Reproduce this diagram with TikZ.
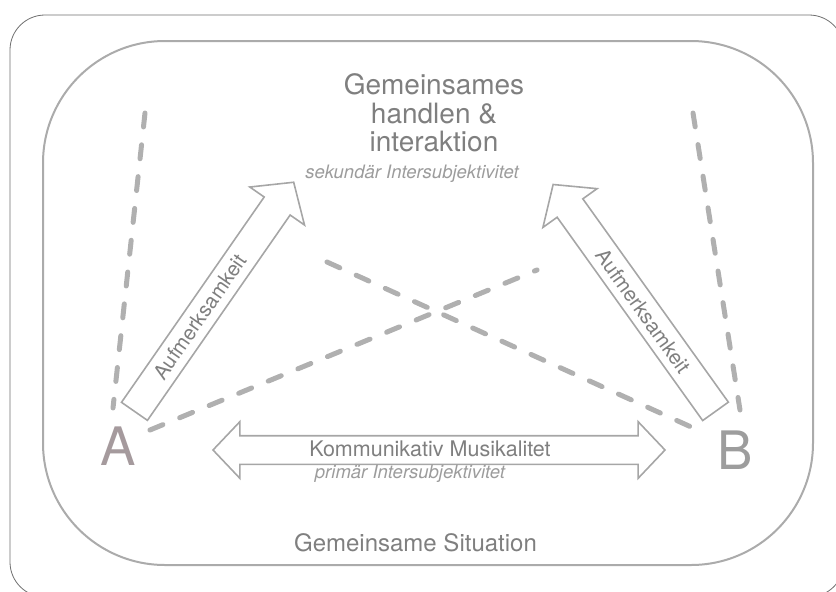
\documentclass[tikz,border=0pt]{standalone}
\usepackage{fontspec}
\setmainfont{TeX Gyre Heros}
\usetikzlibrary{shapes.arrows}
\definecolor{outerc}{HTML}{6E6E6E}
\definecolor{innerc}{HTML}{ABABAB}
\definecolor{arrowc}{HTML}{A6A6A6}
\definecolor{dashc}{HTML}{B0B0B0}
\definecolor{titlec}{HTML}{7F7F7F}
\definecolor{italc}{HTML}{9C9C9C}
\definecolor{acol}{HTML}{A59A9D}
\definecolor{bcol}{HTML}{9D9D9D}
\tikzset{
  outerframe/.style={draw=outerc, line width=0.8pt, rounded corners=35pt},
  innerframe/.style={draw=innerc, line width=2pt, rounded corners=122pt},
  dashline/.style={draw=dashc, line width=5pt, line cap=round, dash pattern=on 14pt off 18pt},
  blockarrow/.style={single arrow, draw=arrowc, line width=1.6pt, inner xsep=0pt, inner ysep=15pt,
     text width=0pt, text height=0pt, text depth=0pt,
     single arrow head extend=17.5pt, single arrow tip angle=98, minimum height=279pt, anchor=tail},
  dblarrow/.style={double arrow, draw=arrowc, line width=1.6pt, inner xsep=0pt, inner ysep=13.5pt,
     text width=0pt, text height=0pt, text depth=0pt,
     double arrow head extend=14pt, double arrow tip angle=93, minimum height=452pt},
  arrowtext/.style={text=titlec, font=\fontsize{20.5}{22}\selectfont, inner sep=0pt},
  italtext/.style={text=italc, font=\fontsize{18.5}{20}\selectfont\itshape, inner sep=0pt, anchor=base},
  letter/.style={font=\fontsize{53}{60}\selectfont, inner sep=0pt}
}
\begin{document}
\begin{tikzpicture}[x=1pt,y=-1pt]
\useasboundingbox (0,0) rectangle (836,592);
\clip (0,0) rectangle (836,592);
% frames
\draw[outerframe] (10,15) rectangle (844,597);
\draw[innerframe] (43,41) rectangle (813,565);
% dashed lines
\coordinate (l1a) at (145,113); \coordinate (l1b) at (113,408);
\coordinate (l2a) at (693,113); \coordinate (l2b) at (740,410);
\coordinate (d1a) at (150,430); \coordinate (d1b) at (537,270);
\coordinate (d2a) at (327,262); \coordinate (d2b) at (700,431);
\draw[dashline] (l1a) -- (l1b);
\draw[dashline] (l2a) -- (l2b);
\draw[dashline] (d1a) -- (d1b);
\draw[dashline] (d2a) -- (d2b);
% block arrows
\node[blockarrow, rotate=55.2] (arrA) at (134,412) {};
\node[blockarrow, rotate=125.6] (arrB) at (716,412) {};
\node[dblarrow] (dbl) at (439,450) {};
% labels on arrows
\node[arrowtext, rotate=55.2] (labA) at (200,317) {Aufmerksamkeit};
\node[arrowtext, rotate=-54.4] (labB) at (643,311) {Aufmerksamkeit};
\node[arrowtext, font=\fontsize{21.5}{23}\selectfont, anchor=base] (komm) at (430,456) {Kommunikativ Musikalitet};
\node[italtext] (prim) at (410,478) {primär Intersubjektivitet};
% title
\node[text=titlec, font=\fontsize{28}{28.5}\selectfont, align=center, inner sep=0pt] (title) at (434,113)
  {Gemeinsames\\handlen \&\\interaktion};
\node[italtext] (sek) at (412,178) {sekundär Intersubjektivitet};
% A and B
\node[letter, text=acol] (A) at (118.5,446) {A};
\node[letter, text=bcol] (B) at (735,450) {B};
% situation
\node[text=titlec, font=\fontsize{24}{26}\selectfont, inner sep=0pt, anchor=base] (sit) at (415.5,551) {Gemeinsame Situation};
\end{tikzpicture}
\end{document}
